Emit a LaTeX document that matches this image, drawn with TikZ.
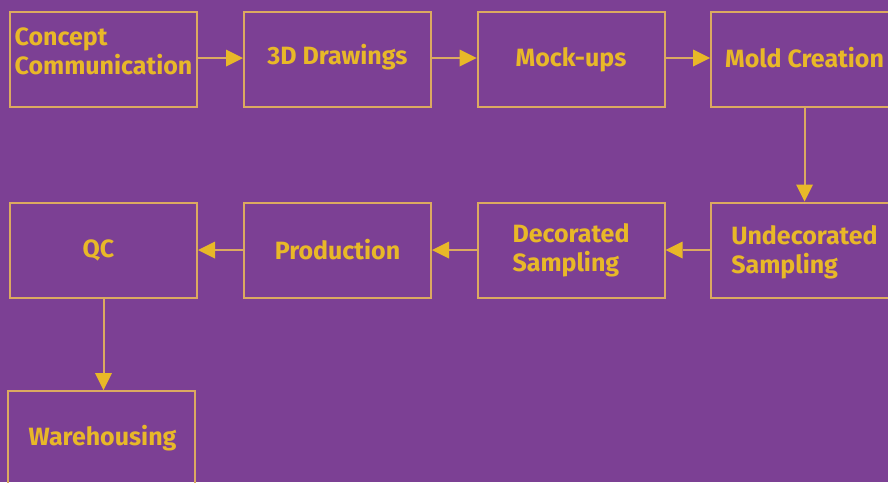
\documentclass[tikz,border=0pt]{standalone}
\usepackage{fontspec}
\setmainfont{Fira Sans}
\usetikzlibrary{arrows.meta}
\definecolor{bgpurple}{RGB}{124,64,148}
\definecolor{boxline}{RGB}{220,170,96}
\definecolor{goldtxt}{RGB}{232,184,40}
\tikzset{
  stepbox/.style={draw=boxline, line width=2pt, minimum width=187pt, minimum height=95pt, inner sep=0pt},
  lbl/.style={text=goldtxt, font=\fontsize{25}{29}\selectfont\bfseries, align=left, inner sep=0pt},
  flow/.style={draw=boxline, line width=2pt, -{Triangle[length=17pt,width=17pt,color=goldtxt,fill=goldtxt,line width=0pt]}},
}
\begin{document}
\begin{tikzpicture}[x=1pt,y=-1pt]
\fill[bgpurple] (0,0) rectangle (888,482);
\useasboundingbox (0,0) rectangle (888,482);
\begin{scope}
\clip (0,0) rectangle (888,482);
% boxes
\node[stepbox] (b1) at (103.5,59.5) {};
\node[stepbox] (b2) at (337.5,59.5) {};
\node[stepbox] (b3) at (571,59.5) {};
\node[stepbox] (b4) at (804.5,59.5) {};
\node[stepbox] (b5) at (103.5,250) {};
\node[stepbox] (b6) at (337.5,250) {};
\node[stepbox] (b7) at (571,250) {};
\node[stepbox] (b8) at (804.5,250) {};
\node[stepbox] (b9) at (101,438.5) {};
% labels
\node[lbl] (t1) at ([yshift=8pt]b1.center) {Concept\\Communication};
\node[lbl] (t2) at ([yshift=2pt]b2.center) {3D Drawings};
\node[lbl] (t3) at (b3.center) {Mock-ups};
\node[lbl] (t4) at ([yshift=2pt]b4.center) {Mold Creation};
\node[lbl] (t5) at ([xshift=-5pt]b5.center) {QC};
\node[lbl] (t6) at (b6.center) {Production};
\node[lbl] (t7) at (b7.center) {Decorated\\Sampling};
\node[lbl] (t8) at ([yshift=-2pt]b8.center) {Undecorated\\Sampling};
\node[lbl] (t9) at ([xshift=1.5pt]b9.center) {Warehousing};
% connectors
\draw[flow] ([yshift=1.5pt]b1.east) -- ([yshift=1.5pt]b2.west);
\draw[flow] ([yshift=1.5pt]b2.east) -- ([yshift=1.5pt]b3.west);
\draw[flow] ([yshift=1.5pt]b3.east) -- ([yshift=1.5pt]b4.west);
\draw[flow] (b4.south) -- (b8.north);
\draw[flow] (b8.west) -- (b7.east);
\draw[flow] (b7.west) -- (b6.east);
\draw[flow] (b6.west) -- (b5.east);
\draw[flow] (b5.south) -- (b5.south |- b9.north);
\end{scope}
\end{tikzpicture}
\end{document}
